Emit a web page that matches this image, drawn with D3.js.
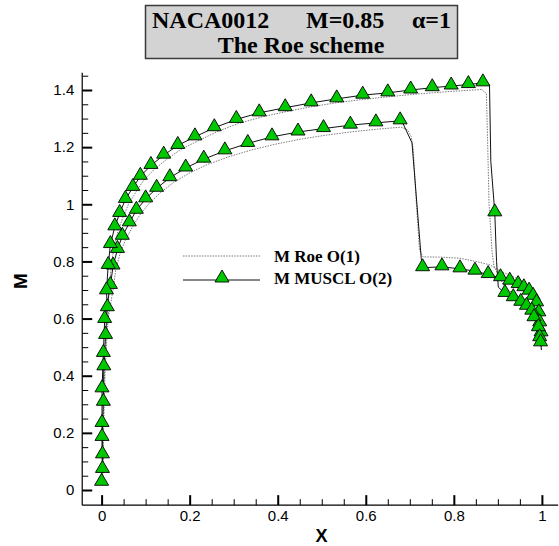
<!DOCTYPE html>
<html>
<head>
<meta charset="utf-8">
<script src="https://cdn.jsdelivr.net/npm/d3@7"></script>
<style>
html,body{margin:0;padding:0;background:#fff;}
svg{display:block;}
</style>
</head>
<body>
<svg id="chart" width="559" height="546"></svg>
<script>
// ---------------- data ----------------
const titleLine1 = ["NACA0012", "M=0.85", "\u03b1=1"];
const titleLine2 = "The Roe scheme";
const seriesNames = ["M Roe O(1)", "M MUSCL O(2)"];
const xLabel = "X";
const yLabel = "M";
const xTickValues = [0, 0.2, 0.4, 0.6, 0.8, 1];
const xTickLabels = ["0", "0.2", "0.4", "0.6", "0.8", "1"];
const yTickValues = [0, 0.2, 0.4, 0.6, 0.8, 1, 1.2, 1.4];
const yTickLabels = ["0", "0.2", "0.4", "0.6", "0.8", "1", "1.2", "1.4"];

// MUSCL O(2), upper surface (symbols flagged 1)
const musclUpperX = [0.002,0.001,0.004,0.005,0.009,0.013,0.011,0.015,0.020,0.030,0.041,0.054,0.071,0.088,0.112,0.141,0.173,0.212,0.256,0.306,0.358,0.417,0.476,0.534,0.593,0.650,0.702,0.751,0.794,0.833,0.866,0.881,0.884,0.893,0.897,0.901,0.916,0.935,0.952,0.965,0.977,0.982,0.992,0.995,0.997,0.999];
const musclUpperM = [0.072,0.184,0.307,0.431,0.541,0.638,0.697,0.786,0.859,0.921,0.968,1.017,1.059,1.098,1.136,1.172,1.206,1.236,1.268,1.297,1.320,1.338,1.355,1.369,1.382,1.390,1.400,1.408,1.414,1.419,1.425,1.418,1.150,0.970,0.800,0.710,0.688,0.673,0.657,0.643,0.626,0.603,0.568,0.533,0.515,0.490];
const musclUpperSym = [1,1,1,1,1,1,1,1,1,1,1,1,1,1,1,1,1,1,1,1,1,1,1,1,1,1,1,1,1,1,1,0,0,1,0,0,1,1,1,1,1,1,1,1,1,0];

// MUSCL O(2), lower surface
const musclLowerX = [0.000,0.002,0.001,0.001,0.004,0.007,0.020,0.026,0.036,0.047,0.063,0.079,0.100,0.125,0.155,0.191,0.232,0.280,0.332,0.387,0.446,0.504,0.565,0.623,0.678,0.685,0.705,0.726,0.729,0.773,0.814,0.848,0.878,0.906,0.927,0.946,0.959,0.971,0.980,0.988,0.993,0.995,0.998];
const musclLowerM = [0.027,0.123,0.233,0.354,0.478,0.597,0.716,0.784,0.842,0.888,0.935,0.979,1.019,1.056,1.093,1.127,1.158,1.187,1.213,1.236,1.253,1.265,1.277,1.285,1.292,1.281,1.215,0.810,0.778,0.781,0.774,0.766,0.754,0.743,0.731,0.719,0.708,0.696,0.678,0.655,0.620,0.585,0.550];
const musclLowerSym = [1,1,1,1,1,1,1,1,1,1,1,1,1,1,1,1,1,1,1,1,1,1,1,1,1,0,0,0,1,1,1,1,1,1,1,1,1,1,1,1,1,1,1];

// Roe O(1), upper surface
const roeUpperX = [0.004,0.004,0.006,0.008,0.012,0.016,0.016,0.021,0.027,0.037,0.048,0.061,0.078,0.095,0.119,0.148,0.180,0.219,0.262,0.311,0.362,0.421,0.479,0.536,0.594,0.650,0.702,0.751,0.794,0.833,0.863,0.874,0.877,0.880,0.887,0.891,0.905,0.918,0.936,0.953,0.966,0.978,0.984,0.993,0.996,0.998,0.999];
const roeUpperM = [0.060,0.180,0.300,0.420,0.530,0.625,0.680,0.770,0.840,0.905,0.952,1.000,1.043,1.083,1.121,1.158,1.192,1.222,1.254,1.283,1.305,1.325,1.342,1.356,1.367,1.376,1.384,1.390,1.395,1.399,1.402,1.388,1.200,1.000,0.830,0.785,0.740,0.705,0.688,0.672,0.657,0.640,0.618,0.582,0.548,0.522,0.495];

// Roe O(1), lower surface
const roeLowerX = [0.002,0.004,0.004,0.005,0.008,0.012,0.026,0.032,0.042,0.054,0.070,0.087,0.108,0.133,0.163,0.199,0.240,0.288,0.340,0.394,0.452,0.510,0.570,0.627,0.680,0.695,0.703,0.708,0.715,0.722,0.730,0.773,0.814,0.850,0.882,0.906,0.927,0.946,0.960,0.972,0.981,0.989,0.994,0.996,0.998,0.999];
const roeLowerM = [0.020,0.110,0.220,0.340,0.460,0.575,0.700,0.770,0.828,0.874,0.921,0.963,1.003,1.040,1.076,1.109,1.139,1.166,1.190,1.210,1.228,1.242,1.254,1.263,1.270,1.260,1.238,1.190,1.000,0.840,0.816,0.815,0.811,0.800,0.788,0.765,0.752,0.738,0.725,0.710,0.690,0.665,0.630,0.590,0.555,0.530];

// ---------------- drawing ----------------
const svg = d3.select("#chart");

const x = d3.scaleLinear().domain([0, 1]).range([101.6, 541.9]);
const y = d3.scaleLinear().domain([0, 1.4]).range([490, 90]);
const xAxisExtent = [-0.044, 1.037];
const yAxisExtent = [-0.053, 1.46];
const axisY = y(yAxisExtent[0]);
const axisX = x(xAxisExtent[0]);

const xMinor = d3.range(0, 1.0001, 0.05).filter(v => Math.abs(Math.round(v * 5) - v * 5) > 1e-6);
const yMinor = d3.range(0, 1.4501, 0.05).filter(v => Math.abs(Math.round(v * 5) - v * 5) > 1e-6);

const tickFont = "'Liberation Sans', Arial, Helvetica, sans-serif";
const serifFont = "'Liberation Serif', 'Times New Roman', serif";

// axis lines
svg.append("line").attr("x1", axisX).attr("x2", x(xAxisExtent[1]))
  .attr("y1", axisY).attr("y2", axisY).attr("stroke", "#000").attr("stroke-width", 1.2);
svg.append("line").attr("x1", axisX).attr("x2", axisX)
  .attr("y1", axisY).attr("y2", y(yAxisExtent[1])).attr("stroke", "#000").attr("stroke-width", 1.2);

function styleTicks(g, w) {
  g.select(".domain").remove();
  g.selectAll(".tick line").attr("stroke", "#000").attr("stroke-width", w);
}

// x ticks (inward)
svg.append("g").attr("transform", `translate(0,${axisY})`)
  .call(d3.axisTop(x).tickValues(xTickValues).tickSize(10).tickFormat(""))
  .call(g => styleTicks(g, 2));
svg.append("g").attr("transform", `translate(0,${axisY})`)
  .call(d3.axisTop(x).tickValues(xMinor).tickSize(6).tickFormat(""))
  .call(g => styleTicks(g, 1));
svg.append("g").attr("transform", `translate(0,${axisY})`)
  .call(d3.axisBottom(x).tickValues(xTickValues).tickSize(0).tickPadding(5).tickFormat((d, i) => xTickLabels[i]))
  .call(g => { g.select(".domain").remove(); g.selectAll("text").attr("font-family", tickFont).attr("font-size", 15).attr("fill", "#000"); });

// y ticks (inward)
svg.append("g").attr("transform", `translate(${axisX},0)`)
  .call(d3.axisRight(y).tickValues(yTickValues).tickSize(10).tickFormat(""))
  .call(g => styleTicks(g, 2));
svg.append("g").attr("transform", `translate(${axisX},0)`)
  .call(d3.axisRight(y).tickValues(yMinor).tickSize(6).tickFormat(""))
  .call(g => styleTicks(g, 1));
svg.append("g").attr("transform", `translate(${axisX},0)`)
  .call(d3.axisLeft(y).tickValues(yTickValues).tickSize(0).tickPadding(8).tickFormat((d, i) => yTickLabels[i]))
  .call(g => { g.select(".domain").remove(); g.selectAll("text").attr("font-family", tickFont).attr("font-size", 15).attr("fill", "#000"); });

// axis titles
svg.append("text").attr("x", 321.6).attr("y", 542).attr("text-anchor", "middle")
  .attr("font-family", tickFont).attr("font-weight", "bold").attr("font-size", 18).text(xLabel);
svg.append("text").attr("transform", "translate(27,281) rotate(-90)").attr("text-anchor", "middle")
  .attr("font-family", tickFont).attr("font-weight", "bold").attr("font-size", 19).text(yLabel);

// series
const zip = (xs, ms, ss) => xs.map((v, i) => ({ x: v, m: ms[i], s: ss ? ss[i] : 0 }));
const line = d3.line().x(d => x(d.x)).y(d => y(d.m));

const roeStyle = p => p.attr("fill", "none").attr("stroke", "#7a7a7a").attr("stroke-width", 1).attr("stroke-dasharray", "1.5,1.2");
const musclStyle = p => p.attr("fill", "none").attr("stroke", "#111").attr("stroke-width", 1);

[zip(roeLowerX, roeLowerM), zip(roeUpperX, roeUpperM)].forEach(d => {
  svg.append("path").datum(d).attr("d", line).call(roeStyle);
});
const musclLower = zip(musclLowerX, musclLowerM, musclLowerSym);
const musclUpper = zip(musclUpperX, musclUpperM, musclUpperSym);
[musclLower, musclUpper].forEach(d => {
  svg.append("path").datum(d).attr("d", line).call(musclStyle);
});

const tri = "M0,-9L7,3L-7,3Z";
function markers(data) {
  svg.append("g").selectAll("path").data(data.filter(d => d.s === 1)).join("path")
    .attr("d", tri)
    .attr("transform", d => `translate(${x(d.x)},${y(d.m)})`)
    .attr("fill", "#00c800").attr("stroke", "#000").attr("stroke-width", 0.9);
}
markers(musclLower);
markers(musclUpper);

// legend
const lg = svg.append("g");
lg.append("line").attr("x1", 183).attr("x2", 260).attr("y1", 256).attr("y2", 256).call(roeStyle);
lg.append("line").attr("x1", 183).attr("x2", 260).attr("y1", 280).attr("y2", 280).call(musclStyle);
lg.append("path").attr("d", tri).attr("transform", "translate(222,279)")
  .attr("fill", "#00c800").attr("stroke", "#000").attr("stroke-width", 0.9);
lg.selectAll("text.leg").data(seriesNames).join("text").attr("class", "leg")
  .attr("x", 274).attr("y", (d, i) => 262 + i * 22)
  .attr("font-family", serifFont).attr("font-weight", "bold").attr("font-size", 17).attr("fill", "#000")
  .text(d => d);

// title box
const tb = svg.append("g");
tb.append("rect").attr("x", 145.5).attr("y", 5.5).attr("width", 312).attr("height", 53)
  .attr("fill", "#d3d3d3").attr("stroke", "#3a3a3a").attr("stroke-width", 1.5);
const t1x = [152, 306, 451];
const t1a = ["start", "start", "end"];
tb.selectAll("text.t1").data(titleLine1).join("text").attr("class", "t1")
  .attr("x", (d, i) => t1x[i]).attr("y", 28).attr("text-anchor", (d, i) => t1a[i])
  .attr("font-family", serifFont).attr("font-weight", "bold").attr("font-size", 24).attr("fill", "#000")
  .text(d => d);
tb.append("text").attr("x", 301).attr("y", 53).attr("text-anchor", "middle")
  .attr("font-family", serifFont).attr("font-weight", "bold").attr("font-size", 24).attr("fill", "#000")
  .text(titleLine2);
</script>
</body>
</html>
